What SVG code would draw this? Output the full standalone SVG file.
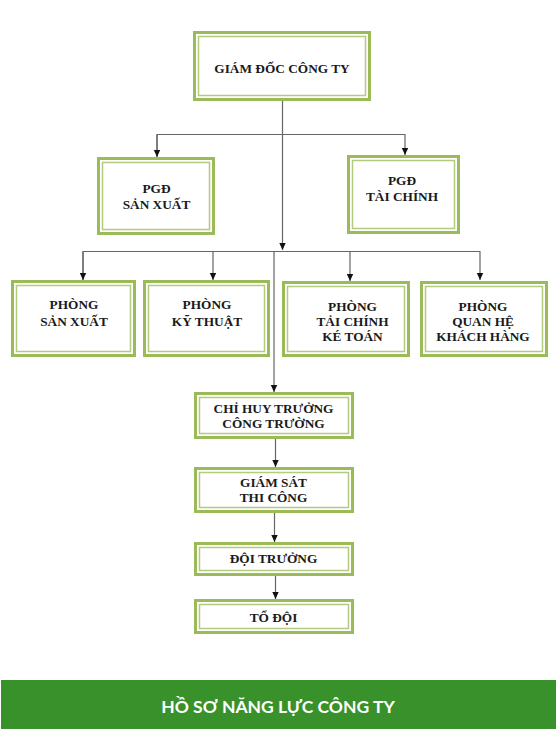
<svg xmlns="http://www.w3.org/2000/svg" width="556" height="729" viewBox="0 0 556 729">
<defs>
<style>
.o{fill:#fff;stroke:#9bbb59;stroke-width:3}
.i{fill:none;stroke:#b2cb7e;stroke-width:1.5}
.t{font-family:"Liberation Serif","Times New Roman",serif;font-weight:bold;font-size:13.3px;fill:#1a1a1a;text-anchor:middle}
.c{fill:none;stroke:#666;stroke-width:1.2}
</style>
<marker id="a" markerUnits="userSpaceOnUse" markerWidth="8" markerHeight="8" refX="7" refY="4" orient="auto">
<path d="M0,0.8 L7,4 L0,7.2 Z" fill="#111"/>
</marker>
</defs>
<rect width="556" height="729" fill="#fff"/>
<g id="connectors">
<path class="c" d="M282.5,101 V250" marker-end="url(#a)"/>
<path class="c" d="M157,157 V134.5 H405 V155" marker-end="url(#a)"/>
<path class="c" d="M157,134.5 V157" marker-end="url(#a)"/>
<path class="c" d="M83,280 V251.5 H480 V280" marker-end="url(#a)"/>
<path class="c" d="M83,251.5 V280" marker-end="url(#a)"/>
<path class="c" d="M213,251.5 V280" marker-end="url(#a)"/>
<path class="c" d="M350,251.5 V281" marker-end="url(#a)"/>
<path class="c" d="M274,251.5 V392" marker-end="url(#a)"/>
<path class="c" d="M275.5,438 V467" marker-end="url(#a)"/>
<path class="c" d="M274.5,512 V542" marker-end="url(#a)"/>
<path class="c" d="M275.5,575 V599" marker-end="url(#a)"/>
</g>
<g id="giam-doc">
<rect class="o" x="194.5" y="32.5" width="175" height="67"/>
<rect class="i" x="198.5" y="36.5" width="167" height="59"/>
<text class="t" x="282" y="73">GIÁM ĐỐC CÔNG TY</text>
</g>
<g id="pgd-san-xuat">
<rect class="o" x="98.5" y="158.5" width="115" height="75"/>
<rect class="i" x="102.5" y="162.5" width="107" height="67"/>
<text class="t" x="156.5" y="193">PGĐ</text>
<text class="t" x="156.5" y="209">SẢN XUẤT</text>
</g>
<g id="pgd-tai-chinh">
<rect class="o" x="348.5" y="156.5" width="110" height="76"/>
<rect class="i" x="352.5" y="160.5" width="102" height="68"/>
<text class="t" x="402" y="185">PGĐ</text>
<text class="t" x="402" y="201">TÀI CHÍNH</text>
</g>
<g id="phong-san-xuat">
<rect class="o" x="12.5" y="281.5" width="122" height="74"/>
<rect class="i" x="16.5" y="285.5" width="114" height="66"/>
<text class="t" x="74" y="309">PHÒNG</text>
<text class="t" x="74" y="326">SẢN XUẤT</text>
</g>
<g id="phong-ky-thuat">
<rect class="o" x="144.5" y="281.5" width="124" height="74"/>
<rect class="i" x="148.5" y="285.5" width="116" height="66"/>
<text class="t" x="207" y="309">PHÒNG</text>
<text class="t" x="207" y="326">KỸ THUẬT</text>
</g>
<g id="phong-tai-chinh-ke-toan">
<rect class="o" x="283.5" y="282.5" width="125" height="73"/>
<rect class="i" x="287.5" y="286.5" width="117" height="65"/>
<text class="t" x="352.5" y="310.5">PHÒNG</text>
<text class="t" x="352.5" y="325.5">TẢI CHÍNH</text>
<text class="t" x="352.5" y="340.5">KÉ TOÁN</text>
</g>
<g id="phong-quan-he-khach-hang">
<rect class="o" x="421.5" y="282.5" width="125" height="73"/>
<rect class="i" x="425.5" y="286.5" width="117" height="65"/>
<text class="t" x="483" y="310.5">PHÒNG</text>
<text class="t" x="483" y="325.5">QUAN HỆ</text>
<text class="t" x="483" y="340.5">KHÁCH HÀNG</text>
</g>
<g id="chi-huy-truong">
<rect class="o" x="195.5" y="393.5" width="157" height="44"/>
<rect class="i" x="199.5" y="397.5" width="149" height="36"/>
<text class="t" x="273.5" y="413">CHỈ HUY TRƯỞNG</text>
<text class="t" x="273.5" y="428">CÔNG TRƯỜNG</text>
</g>
<g id="giam-sat">
<rect class="o" x="195.5" y="468.5" width="157" height="43"/>
<rect class="i" x="199.5" y="472.5" width="149" height="35"/>
<text class="t" x="273.5" y="487">GIÁM SÁT</text>
<text class="t" x="273.5" y="502">THI CÔNG</text>
</g>
<g id="doi-truong">
<rect class="o" x="195.5" y="543.5" width="157" height="31"/>
<rect class="i" x="199.5" y="547.5" width="149" height="23"/>
<text class="t" x="273.5" y="563">ĐỘI TRƯỞNG</text>
</g>
<g id="to-doi">
<rect class="o" x="195.5" y="600.5" width="157" height="32"/>
<rect class="i" x="199.5" y="604.5" width="149" height="24"/>
<text class="t" x="273.5" y="622">TỔ ĐỘI</text>
</g>
<g id="banner">
<rect x="1" y="680" width="555" height="49" fill="#38912a"/>
<text x="278" y="713" font-family="Lato,'Open Sans',sans-serif" font-weight="bold" font-size="17.5" fill="#fff" text-anchor="middle">HỒ SƠ NĂNG LỰC CÔNG TY</text>
</g>
</svg>
